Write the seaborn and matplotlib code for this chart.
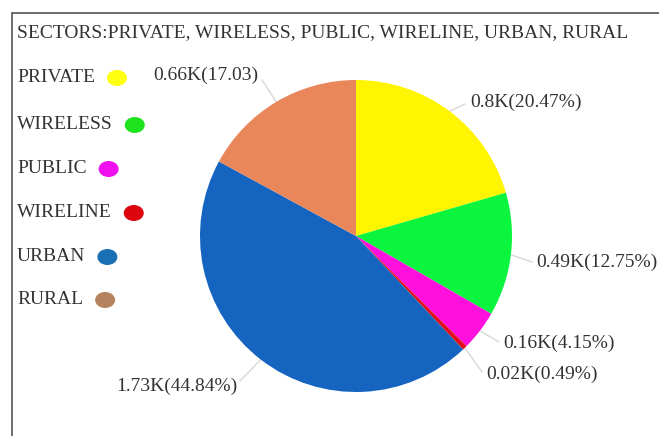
import numpy as np
import matplotlib
matplotlib.use("Agg")
import matplotlib.pyplot as plt
from matplotlib.patches import Ellipse
import seaborn as sns

# Sector breakdown
sectors = ["PRIVATE", "WIRELESS", "PUBLIC", "WIRELINE", "URBAN", "RURAL"]
counts_k = [0.8, 0.49, 0.16, 0.02, 1.73, 0.66]
shares_pct = [20.47, 12.75, 4.15, 0.49, 44.84, 17.03]
value_labels = ["0.8K(20.47%)", "0.49K(12.75%)", "0.16K(4.15%)",
                "0.02K(0.49%)", "1.73K(44.84%)", "0.66K(17.03)"]
title_text = "SECTORS:" + ", ".join(sectors)

wedge_colors = ["#FFF500", "#0CF53E", "#FF10DC", "#E0101A", "#1565C0", "#E9875A"]
key_colors = ["#FFFF10", "#1FE21F", "#F010F0", "#DD0610", "#1A6FB5", "#B5845E"]

sns.set_theme(style="white")
plt.rcParams["font.family"] = ["Liberation Serif", "DejaVu Serif"]

W, H = 659, 436
fig = plt.figure(figsize=(W / 100, H / 100), dpi=100)
fig.patch.set_facecolor("white")

# overlay in pixel units for frame, heading and key
ov = fig.add_axes([0, 0, 1, 1])
ov.set_xlim(0, W)
ov.set_ylim(H, 0)
ov.axis("off")

ov.plot([12, W], [13, 13], color="#555555", lw=1.2)
ov.plot([12, 12], [13, H], color="#555555", lw=1.2)

txt_color = "#333333"
fs = 14
ov.text(17, 33, title_text, fontsize=fs, color=txt_color, va="center", ha="left")

# pie axes: centre (356, 236) px, radius 156 px
cx, cy, r = 356, 236, 156
ax = fig.add_axes([(cx - r) / W, (H - cy - r) / H, 2 * r / W, 2 * r / H])
wedges, _ = ax.pie(shares_pct, colors=wedge_colors, startangle=90,
                   counterclock=False, radius=1.0,
                   wedgeprops=dict(linewidth=0))
ax.set_xlim(-1, 1)
ax.set_ylim(-1, 1)
ax.set_aspect("equal")
ax.axis("off")

# label anchor positions (pixels) for each sector's value text
label_pos = [(470, 102, "left"), (536, 262, "left"), (503, 343, "left"),
             (486, 374, "left"), (237, 386, "right"), (258, 75, "right")]
line_ends = [(465, 104), (532, 262), (499, 342), (482, 372), (240, 381), (262, 80)]

for w, lab, (tx, ty, ha), (lx, ly) in zip(wedges, value_labels, label_pos, line_ends):
    mid = np.deg2rad((w.theta1 + w.theta2) / 2)
    px = cx + r * np.cos(mid)
    py = cy - r * np.sin(mid)
    ov.plot([px, lx], [py, ly], color="#d8d8d8", lw=1.0)
    ov.text(tx, ty, lab, fontsize=fs, color=txt_color, ha=ha, va="center")

# key: name followed by a coloured dot
key_y = [77, 124, 168, 212, 256, 299]
fig.canvas.draw()
renderer = fig.canvas.get_renderer()
for name, col, y in zip(sectors, key_colors, key_y):
    t = ov.text(17, y, name, fontsize=fs, color=txt_color, ha="left", va="center")
    bb = t.get_window_extent(renderer=renderer)
    x_end = bb.x1
    ov.add_patch(Ellipse((x_end + 22, y + 1), 20, 16, facecolor=col,
                         edgecolor="none"))

fig.savefig("out.png", dpi=100, facecolor="white")
